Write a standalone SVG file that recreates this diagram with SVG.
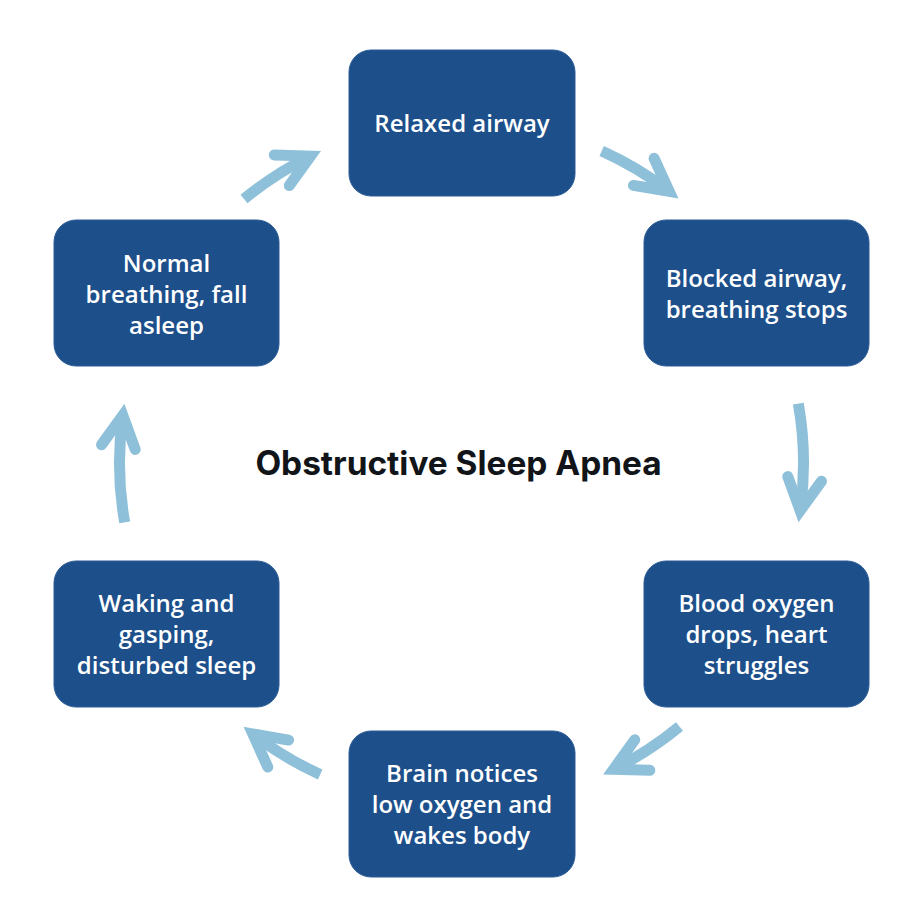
<svg xmlns="http://www.w3.org/2000/svg" width="913" height="909" viewBox="0 0 913 909">
<style>
.box{fill:#1d4f8b;stroke:#2c5c96;stroke-width:1}
.lbl{fill:#ffffff;font-family:"Open Sans","Noto Sans",sans-serif;font-weight:600;font-size:24px;text-anchor:middle}
.title{fill:#111418;font-family:Inter,"Liberation Sans",sans-serif;font-weight:700;font-size:33.4px;text-anchor:middle}
.arc{fill:none;stroke:#8fc0da;stroke-width:11;stroke-linecap:butt}
</style>
<defs>
<marker id="head" markerUnits="userSpaceOnUse" orient="auto" refX="0" refY="0" markerWidth="60" markerHeight="60" overflow="visible">
<path d="M -32,-17 L 0,0 L -32,17" fill="none" stroke="#8fc0da" stroke-width="11" stroke-linecap="round" stroke-linejoin="miter"/>
</marker>
</defs>
<rect width="913" height="909" fill="#ffffff"/>
<g id="connectors">
<path class="arc" marker-end="url(#head)" d="M 601.7 151.1 A 342 342 0 0 1 669.2 191.3"/>
<path class="arc" marker-end="url(#head)" d="M 798.3 403.6 A 342 342 0 0 1 800.2 510.6"/>
<path class="arc" marker-end="url(#head)" d="M 679.5 726.5 A 342 342 0 0 1 613.6 769.3"/>
<path class="arc" marker-end="url(#head)" d="M 320.2 774.5 A 342 342 0 0 1 252.8 734.0"/>
<path class="arc" marker-end="url(#head)" d="M 124.7 522.4 A 342 342 0 0 1 122.8 415.4"/>
<path class="arc" marker-end="url(#head)" d="M 244.0 199.1 A 342 342 0 0 1 310.5 156.1"/>
</g>
<g id="node-relaxed">
<rect class="box" x="349" y="50" width="226" height="146" rx="22"/>
<text class="lbl" x="462" y="132">Relaxed airway</text>
</g>
<g id="node-blocked">
<rect class="box" x="644" y="220" width="225" height="146" rx="22"/>
<text class="lbl" x="756.5" y="287">Blocked airway,</text>
<text class="lbl" x="756.5" y="318">breathing stops</text>
</g>
<g id="node-oxygen">
<rect class="box" x="644" y="561" width="225" height="146" rx="22"/>
<text class="lbl" x="756.5" y="612">Blood oxygen</text>
<text class="lbl" x="756.5" y="643">drops, heart</text>
<text class="lbl" x="756.5" y="674">struggles</text>
</g>
<g id="node-brain">
<rect class="box" x="349" y="731" width="226" height="146" rx="22"/>
<text class="lbl" x="462" y="782">Brain notices</text>
<text class="lbl" x="462" y="813">low oxygen and</text>
<text class="lbl" x="462" y="844">wakes body</text>
</g>
<g id="node-waking">
<rect class="box" x="54" y="561" width="225" height="146" rx="22"/>
<text class="lbl" x="166.5" y="612">Waking and</text>
<text class="lbl" x="166.5" y="643">gasping,</text>
<text class="lbl" x="166.5" y="674">disturbed sleep</text>
</g>
<g id="node-normal">
<rect class="box" x="54" y="220" width="225" height="146" rx="22"/>
<text class="lbl" x="166.5" y="272">Normal</text>
<text class="lbl" x="166.5" y="303">breathing, fall</text>
<text class="lbl" x="166.5" y="334">asleep</text>
</g>
<text class="title" x="458.5" y="475">Obstructive Sleep Apnea</text>
</svg>
